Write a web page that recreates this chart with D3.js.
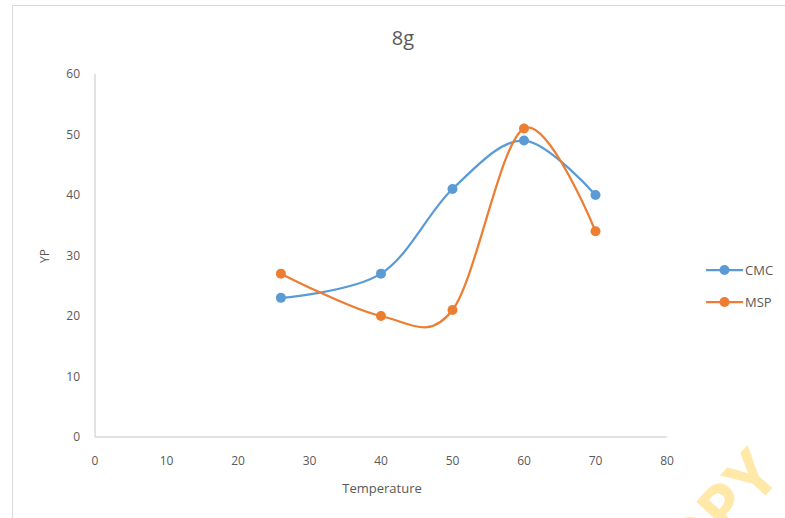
<!DOCTYPE html>
<html><head><meta charset="utf-8">
<script src="https://cdn.jsdelivr.net/npm/d3@7"></script>
<style>body{margin:0;background:#fff;} svg{display:block;font-family:"Open Sans","Liberation Sans",sans-serif;}</style>
</head><body><svg id="c" width="785" height="518"></svg>
<script>
const temperatures = [26, 40, 50, 60, 70];
const cmcValues = [23, 27, 41, 49, 40];
const mspValues = [27, 20, 21, 51, 34];
const seriesNames = ["CMC", "MSP"];
const seriesColors = ["#5B9BD5", "#ED7D31"];
const xTicks = [0, 10, 20, 30, 40, 50, 60, 70, 80];
const yTicks = [0, 10, 20, 30, 40, 50, 60];
const titleText = "8g";

const svg = d3.select("#c");
svg.append("rect").attr("x",12.5).attr("y",5.5).attr("width",790).attr("height",540)
  .attr("fill","#fff").attr("stroke","#d9d9d9");

const x = d3.scaleLinear().domain([0,80]).range([95,667]);
const y = d3.scaleLinear().domain([0,60]).range([437,74]);

svg.append("line").attr("x1",x(0)).attr("x2",x(80)).attr("y1",y(0)).attr("y2",y(0)).attr("stroke","#d9d9d9").attr("stroke-width",1.5);
svg.append("line").attr("x1",x(0)).attr("x2",x(0)).attr("y1",y(0)).attr("y2",y(60)).attr("stroke","#d9d9d9").attr("stroke-width",1.5);

const tc = "#595959";
svg.append("g").selectAll("text").data(xTicks).join("text")
  .attr("x",d=>x(d)).attr("y",465).attr("text-anchor","middle")
  .attr("font-size",12).attr("fill",tc).text(d=>d);
svg.append("g").selectAll("text").data(yTicks).join("text")
  .attr("x",80).attr("y",d=>y(d)+4).attr("text-anchor","end")
  .attr("font-size",12).attr("fill",tc).text(d=>d);

svg.append("text").attr("x",403).attr("y",45).attr("text-anchor","middle")
  .attr("font-size",20).attr("fill",tc).text(titleText);
svg.append("text").attr("x",382).attr("y",493).attr("text-anchor","middle")
  .attr("font-size",13).attr("fill",tc).text("Temperature");
svg.append("text").attr("transform","translate(49,256) rotate(-90)").attr("text-anchor","middle")
  .attr("font-size",12).attr("fill",tc).text("YP");

const series = [cmcValues, mspValues];
const line = d3.line().x(d=>x(d[0])).y(d=>y(d[1])).curve(d3.curveCardinal.tension(0));
series.forEach((vals,i)=>{
  const pts = temperatures.map((t,j)=>[t,vals[j]]);
  svg.append("path").attr("d",line(pts)).attr("fill","none")
    .attr("stroke",seriesColors[i]).attr("stroke-width",2.25);
  svg.append("g").selectAll("circle").data(pts).join("circle")
    .attr("cx",d=>x(d[0])).attr("cy",d=>y(d[1])).attr("r",5).attr("fill",seriesColors[i]);
});

seriesNames.forEach((n,i)=>{
  const ly = 270 + i*32;
  svg.append("line").attr("x1",706).attr("x2",743).attr("y1",ly).attr("y2",ly)
    .attr("stroke",seriesColors[i]).attr("stroke-width",2.25);
  svg.append("circle").attr("cx",724.5).attr("cy",ly).attr("r",5).attr("fill",seriesColors[i]);
  svg.append("text").attr("x",745).attr("y",ly+4.5).attr("font-size",13).attr("fill",tc).text(n);
});

// watermark (partly off the page, as in the reference)
svg.append("text").attr("transform","translate(664,608) rotate(-48)")
  .attr("font-size",66).attr("font-weight","bold").attr("fill","#FFE49A").attr("opacity",0.85).text("COPY");
</script></body></html>
